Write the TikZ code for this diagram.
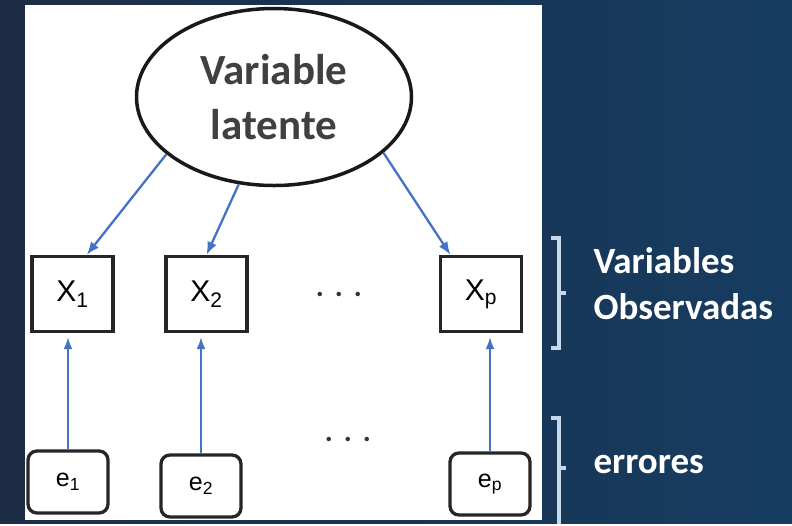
\documentclass[tikz,border=0pt]{standalone}
\usepackage{fontspec}
\setmainfont{Carlito}
\newfontfamily\boxfont{Liberation Sans}
\usepackage{tikz}
\usetikzlibrary{shapes.geometric,arrows.meta,positioning,calc}

\definecolor{navyL}{RGB}{30,45,70}
\definecolor{navyR}{RGB}{22,60,97}
\definecolor{arrowblue}{RGB}{68,114,196}
\definecolor{bracketblue}{RGB}{200,216,236}

\begin{document}
\begin{tikzpicture}[x=1pt, y=-1pt,
    obsbox/.style={draw=black!85, line width=3.3pt, fill=white, minimum width=81pt, minimum height=75pt, inner sep=0pt, font=\boxfont\fontsize{30}{32}\selectfont},
    errbox/.style={draw=black!85, line width=3.3pt, fill=white, rounded corners=9pt, minimum width=80pt, minimum height=62pt, inner sep=0pt, font=\boxfont\fontsize{25}{27}\selectfont},
    load/.style={-{Latex[length=13pt,width=10pt]}, arrowblue, line width=2.3pt},
    err/.style={-{Latex[length=12pt,width=9pt]}, arrowblue, line width=1.9pt, shorten >=4pt},
    side/.style={text=white, font=\bfseries\fontsize{37}{46}\selectfont, align=left, anchor=west}]
    % background and white panel
    \shade[left color=navyL, right color=navyR] (0,0) rectangle (792,523);
    \fill[white] (25,5) rectangle (542,520);

    \node[draw=black!90, ellipse, line width=3.5pt, minimum width=275pt, minimum height=177pt, inner sep=0pt, align=center, text=black!75, font=\bfseries\fontsize{43}{55}\selectfont] (lat) at (274,97) {Variable\\latente};

    \node[obsbox] (X1) at (72.5,294) {X\textsubscript{1}};
    \node[obsbox] (X2) at (206.5,294) {X\textsubscript{2}};
    \node[obsbox] (Xp) at (481,294) {X\textsubscript{p}};
    \node[text=black!80, font=\bfseries\fontsize{30}{32}\selectfont] (dotsX) at (339,294) {.\hspace{11pt}.\hspace{11pt}.};

    \node[errbox] (e1) at (68,482) {e\textsubscript{1}};
    \node[errbox] (e2) at (201,486) {e\textsubscript{2}};
    \node[errbox] (ep) at (490,484) {e\textsubscript{p}};
    \node[text=black!80, font=\bfseries\fontsize{30}{32}\selectfont] (dotsE) at (348,439) {.\hspace{11pt}.\hspace{11pt}.};

    \draw[load] (lat.208) -- (X1.70);
    \draw[load] (lat.248) -- (X2.north);
    \draw[load] (lat.333) -- (Xp.128);
    \foreach \e/\x in {e1/X1,e2/X2,ep/Xp}
        \draw[err] (\e.north) -- (\e.north |- \x.south);

    % brackets
    \draw[bracketblue, line width=3.2pt] (551,238) -- (559,238) -- (559,348) -- (551,348) (559,293) -- (566,293);
    \draw[bracketblue, line width=3.2pt] (551,418) -- (559,418) -- (559,524) (559,468) -- (566,468);

    \node[side] (obs) at (590,284) {Variables\\Observadas};
    \node[side] (errs) at (590,464) {errores};
\end{tikzpicture}
\end{document}
